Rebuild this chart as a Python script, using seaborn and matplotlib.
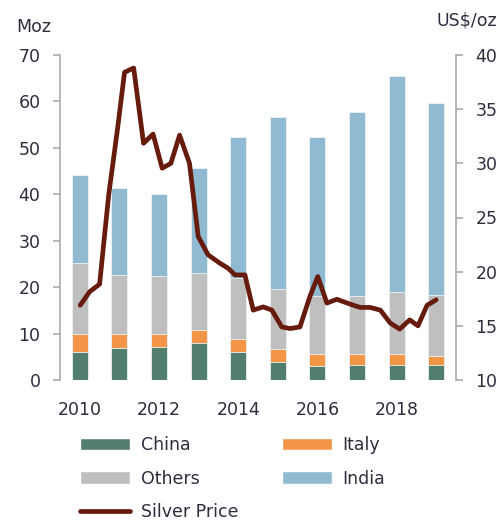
import matplotlib
matplotlib.use("Agg")
import matplotlib.pyplot as plt
from matplotlib.patches import Patch
from matplotlib.lines import Line2D
import seaborn as sns
import pandas as pd

# Silver fabrication demand by country (Moz)
years = [2010, 2011, 2012, 2013, 2014, 2015, 2016, 2017, 2018, 2019]
china = [6.0, 7.0, 7.2, 8.0, 6.0, 3.8, 3.1, 3.3, 3.3, 3.3]
italy = [4.0, 2.9, 2.8, 2.8, 2.8, 2.9, 2.6, 2.4, 2.4, 1.9]
others = [15.3, 12.7, 12.5, 12.2, 13.2, 12.8, 12.4, 12.4, 13.3, 13.2]
india = [18.9, 18.8, 17.6, 22.6, 30.3, 37.1, 34.2, 39.6, 46.4, 41.3]

# Silver price (US$/oz)
price_time = [2010.01, 2010.25, 2010.50, 2010.73, 2010.95, 2011.13, 2011.36,
              2011.61, 2011.85, 2012.08, 2012.30, 2012.52, 2012.77, 2012.99,
              2013.24, 2013.53, 2013.75, 2013.92, 2014.17, 2014.38, 2014.63,
              2014.85, 2015.10, 2015.31, 2015.56, 2015.81, 2016.01, 2016.24,
              2016.49, 2016.83, 2017.08, 2017.33, 2017.59, 2017.84, 2018.08,
              2018.33, 2018.54, 2018.77, 2019.00]
price = [16.9, 18.15, 18.85, 27.1, 33.1, 38.4, 38.8,
         31.85, 32.7, 29.55, 30.0, 32.6, 30.0, 23.25,
         21.55, 20.8, 20.3, 19.7, 19.7, 16.45, 16.75,
         16.45, 14.9, 14.75, 14.9, 17.7, 19.55, 17.1,
         17.45, 17.0, 16.7, 16.7, 16.45, 15.25, 14.7,
         15.55, 15.0, 16.9, 17.4]

tick_years = [2010, 2012, 2014, 2016, 2018]

C_CHINA = "#527e6e"
C_ITALY = "#f39546"
C_OTHERS = "#bfbfbf"
C_INDIA = "#8fbad2"
C_PRICE = "#661b0c"
TXT = "#2d2e3d"
SPINE = "#a3a3a3"
FS = 12.5

sns.set_style("white")
plt.rcParams["font.family"] = ["DejaVu Sans"]
plt.rcParams["text.color"] = TXT

df = pd.DataFrame({"year": years, "China": china, "Italy": italy,
                   "Others": others, "India": india})
df["lvl_italy"] = df["China"] + df["Italy"]
df["lvl_others"] = df["lvl_italy"] + df["Others"]
df["lvl_india"] = df["lvl_others"] + df["India"]

fig = plt.figure(figsize=(5.03, 5.21), dpi=100)
ax = fig.add_axes([60 / 503, 1 - 380 / 521, 396 / 503, 325 / 521])

# stacked bars drawn back to front from cumulative totals
for col, color in [("lvl_india", C_INDIA), ("lvl_others", C_OTHERS),
                   ("lvl_italy", C_ITALY), ("China", C_CHINA)]:
    sns.barplot(data=df, x="year", y=col, color=color, width=0.4,
                saturation=1, edgecolor="#eef3f5", linewidth=0.6, ax=ax)

ax.set_ylim(0, 70)
ax.set_yticks(range(0, 71, 10))
ax.set_xlim(-0.5, 9.5)
ax.set_xticks([y - years[0] for y in tick_years])
ax.set_xticklabels([str(y) for y in tick_years])
ax.set_xlabel("")
ax.set_ylabel("")

ax2 = ax.twinx()
sns.lineplot(x=[t - years[0] for t in price_time], y=price, ax=ax2,
             color=C_PRICE, linewidth=3.4, estimator=None, sort=False,
             solid_joinstyle="round", solid_capstyle="round")
ax2.set_ylim(10, 40)
ax2.set_yticks(range(10, 41, 5))
ax2.set_xlim(-0.5, 9.5)

for a in (ax, ax2):
    for s in ("top", "bottom"):
        a.spines[s].set_visible(False)
    for s in ("left", "right"):
        a.spines[s].set_color(SPINE)
        a.spines[s].set_linewidth(1.1)
ax.spines["right"].set_visible(False)
ax2.spines["left"].set_visible(False)

ax.tick_params(axis="y", which="both", left=True, length=5, width=1.1,
               color=SPINE, pad=9, labelsize=FS, labelcolor=TXT)
ax.tick_params(axis="x", length=0, pad=15, labelsize=FS, labelcolor=TXT)
ax2.tick_params(axis="y", right=True, length=5, width=1.1, color=SPINE,
                pad=9, labelsize=FS, labelcolor=TXT)

fig.text(16 / 503, 1 - 27 / 521, "Moz", fontsize=FS, color=TXT,
         ha="left", va="center")
fig.text(497 / 503, 1 - 20 / 521, "US$/oz", fontsize=FS, color=TXT,
         ha="right", va="center")

handles = [
    Patch(facecolor=C_CHINA, label="China"),
    Patch(facecolor=C_OTHERS, label="Others"),
    Line2D([0], [0], color=C_PRICE, linewidth=3.4, solid_capstyle="round",
           label="Silver Price"),
    Patch(facecolor=C_ITALY, label="Italy"),
    Patch(facecolor=C_INDIA, label="India"),
]
fig.legend(handles=handles, loc="upper left",
           bbox_to_anchor=(80 / 503, 1 - 436 / 521), ncol=2, frameon=False,
           fontsize=FS, handlelength=2.9, handleheight=0.7,
           handletextpad=0.6, columnspacing=2.5, labelspacing=0.9,
           borderpad=0, borderaxespad=0, labelcolor=TXT)

fig.savefig("out.png", dpi=100)
